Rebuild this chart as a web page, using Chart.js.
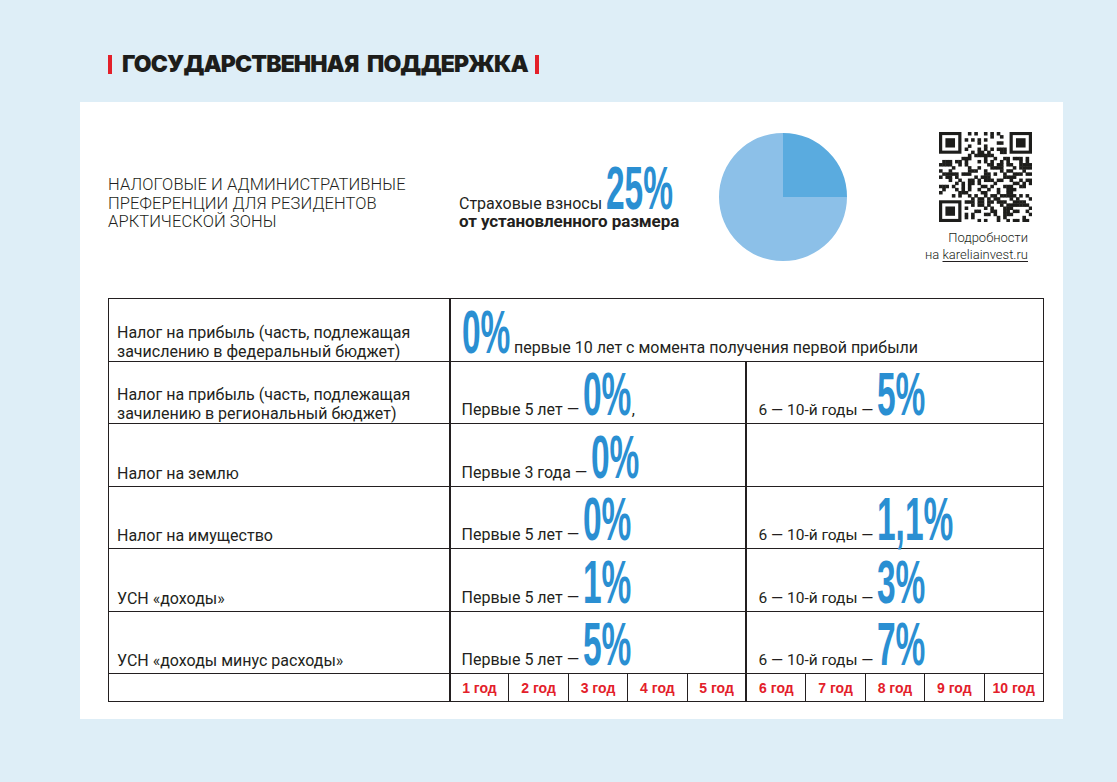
<!DOCTYPE html>
<html lang="ru">
<head>
<meta charset="utf-8">
<script src="https://cdn.jsdelivr.net/npm/chart.js@4.4.1/dist/chart.umd.min.js"></script>
<style>
  html, body { margin: 0; padding: 0; }
  body {
    width: 1117px; height: 782px; position: relative; overflow: hidden;
    background: #deeef7; font-family: Roboto, "Liberation Sans", sans-serif; color: #231f20;
  }
  .bar { position: absolute; top: 55px; width: 4px; height: 19px; background: #e3202a; }
  #title {
    position: absolute; left: 122px; top: 50px; font-family: Inter, sans-serif;
    font-weight: 900; font-size: 23px; letter-spacing: -0.9px; word-spacing: 5px; color: #1d1d1b; white-space: nowrap;
  }
  #panel { position: absolute; left: 80px; top: 102px; width: 983px; height: 617px; background: #fff; }
  #subtitle {
    position: absolute; left: 108px; top: 176px; font-size: 16.5px; line-height: 18.5px;
    font-weight: 300; letter-spacing: 0.1px;
  }
  .big { display: inline-block; position: relative; vertical-align: baseline; }
  .big span {
    display: inline-block; font-family: "Liberation Sans Narrow", "Liberation Sans", sans-serif;
    font-weight: bold; color: #2a8fd2; transform-origin: left bottom; white-space: nowrap;
  }
  #insurance { position: absolute; left: 459px; top: 166px; font-size: 16px; white-space: nowrap; }
  #insurance .line2 { font-weight: bold; font-size: 17px; margin-top: -2px; letter-spacing: -0.1px; }
  #pieBox { position: absolute; left: 713px; top: 127px; width: 140px; height: 140px; }
  #qr { position: absolute; left: 939px; top: 132px; }
  #more { position: absolute; right: 89px; top: 229px; font-size: 13px; line-height: 17px; text-align: right; font-weight: 300; }
  #more u { text-decoration-thickness: 1px; text-underline-offset: 2px; }
  table { position: absolute; left: 108px; top: 298px; border-collapse: collapse; table-layout: fixed; }
  td {
    border: 1.5px solid #231f20; padding: 0; font-size: 16px; vertical-align: bottom; white-space: nowrap;
  }
  td.name { padding: 0 0 3px 8px; line-height: 19px; white-space: normal; font-size: 16px; }
  td.name.two { padding-bottom: 0; }
  td.val { padding: 0 0 4px 11px; font-size: 16px; }
  td.val.second { font-size: 15.5px; }
  td.thick { border-left: 2.5px solid #231f20; }
  td.year {
    text-align: center; vertical-align: middle; font-family: "Liberation Sans Narrow", sans-serif;
    font-weight: bold; color: #e3202a; font-size: 14px; height: 27px;
  }
</style>
</head>
<body>
<div class="bar" style="left:108px"></div>
<div id="title">ГОСУДАРСТВЕННАЯ ПОДДЕРЖКА</div>
<div class="bar" style="left:535px"></div>

<div id="panel"></div>
<div id="subtitle">НАЛОГОВЫЕ И АДМИНИСТРАТИВНЫЕ<br>ПРЕФЕРЕНЦИИ ДЛЯ РЕЗИДЕНТОВ<br>АРКТИЧЕСКОЙ ЗОНЫ</div>
<div id="insurance">
  <div>Страховые взносы <span class="big" data-text="25%"></span></div>
  <div class="line2">от установленного размера</div>
</div>
<div id="pieBox"><canvas id="pie"></canvas></div>
<canvas id="qr" width="93" height="90"></canvas>
<div id="more">Подробности<br>на <u>kareliainvest.ru</u></div>

<table id="taxes"></table>

<script>
// Доля страховых взносов (круговая диаграмма)
const pieLabels = ['Страховые взносы', 'Остаток'];
const pieValues = [25, 75];
const pieColors = ['#5aabdf', '#8cc0e8'];

// Строки таблицы
const taxNames = [
  'Налог на прибыль (часть, подлежащая зачислению в федеральный бюджет)',
  'Налог на прибыль (часть, подлежащая зачилению в региональный бюджет)',
  'Налог на землю',
  'Налог на имущество',
  'УСН «доходы»',
  'УСН «доходы минус расходы»'
];
const firstPeriod = ['', 'Первые 5 лет —', 'Первые 3 года —', 'Первые 5 лет —', 'Первые 5 лет —', 'Первые 5 лет —'];
const firstRate = ['0%', '0%', '0%', '0%', '1%', '5%'];
const secondPeriod = [null, '6 — 10-й годы —', '', '6 — 10-й годы —', '6 — 10-й годы —', '6 — 10-й годы —'];
const secondRate = [null, '5%', '', '1,1%', '3%', '7%'];
const yearLabels = ['1 год', '2 год', '3 год', '4 год', '5 год', '6 год', '7 год', '8 год', '9 год', '10 год'];

const rowHeights = [63, 62, 63, 62, 63, 62];
const BIG_SIZE = 62, BIG_SCALE = 0.54;

function bigNumber(text) {
  return `<span class="big" data-text="${text}"></span>`;
}

// Собираем таблицу
const table = document.getElementById('taxes');
let html = '<colgroup><col style="width:341px">' + yearLabels.map(() => '<col style="width:59.4px">').join('') + '</colgroup>';
taxNames.forEach((name, i) => {
  const two = name.length > 40 ? ' two' : '';
  html += `<tr style="height:${rowHeights[i]}px"><td class="name${two}">${name}</td>`;
  if (secondPeriod[i] === null) {
    html += `<td class="val thick" colspan="10">${bigNumber(firstRate[i])}<span style="margin-left:4px">первые 10 лет с момента получения первой прибыли</span></td>`;
  } else {
    const comma = i === 1 ? ',' : '';
    html += `<td class="val thick" colspan="5">${firstPeriod[i]} ${bigNumber(firstRate[i])}${comma}</td>`;
    html += `<td class="val second thick" colspan="5">${secondPeriod[i]}${secondRate[i] ? ' ' + bigNumber(secondRate[i]) : ''}</td>`;
  }
  html += '</tr>';
});
html += '<tr><td></td>' + yearLabels.map((y, j) => `<td class="year${j % 5 === 0 ? ' thick' : ''}">${y}</td>`).join('') + '</tr>';
table.innerHTML = html;

// Крупные синие цифры: сжимаем по ширине
document.querySelectorAll('.big').forEach(el => {
  const inner = document.createElement('span');
  inner.textContent = el.dataset.text;
  inner.style.fontSize = BIG_SIZE + 'px';
  inner.style.lineHeight = '44px';
  inner.style.transform = `scaleX(${BIG_SCALE})`;
  el.appendChild(inner);
  el.style.width = (inner.offsetWidth * BIG_SCALE) + 'px';
  el.style.marginBottom = '-3px';
});

// Круговая диаграмма
new Chart(document.getElementById('pie'), {
  type: 'pie',
  data: {
    labels: pieLabels,
    datasets: [{ data: pieValues, backgroundColor: pieColors, borderWidth: 0 }]
  },
  options: {
    responsive: true,
    maintainAspectRatio: false,
    animation: false,
    layout: { padding: 6 },
    plugins: { legend: { display: false }, tooltip: { enabled: false } }
  }
});

// QR-код (декоративный узор)
const qr = document.getElementById('qr').getContext('2d');
const N = 29, cell = 93 / N;
function finder(x, y) {
  qr.fillStyle = '#1d1d1b';
  qr.fillRect(x * cell, y * cell, 7 * cell, 7 * cell);
  qr.fillStyle = '#fff';
  qr.fillRect((x + 1) * cell, (y + 1) * cell, 5 * cell, 5 * cell);
  qr.fillStyle = '#1d1d1b';
  qr.fillRect((x + 2) * cell, (y + 2) * cell, 3 * cell, 3 * cell);
}
for (let r = 0; r < N; r++) {
  for (let c = 0; c < N; c++) {
    const inFinder = (r < 8 && c < 8) || (r < 8 && c >= N - 8) || (r >= N - 8 && c < 8);
    if (inFinder) continue;
    const h = ((r * 73856093) ^ (c * 19349663) ^ (r * c * 83492791)) >>> 0;
    if (h % 7 < 3) {
      qr.fillStyle = '#1d1d1b';
      qr.fillRect(c * cell, r * cell * (90 / 93), cell + 0.4, cell * (90 / 93) + 0.4);
    }
  }
}
qr.save();
qr.scale(1, 90 / 93);
finder(0, 0); finder(N - 7, 0); finder(0, N - 7);
qr.restore();
</script>
</body>
</html>
